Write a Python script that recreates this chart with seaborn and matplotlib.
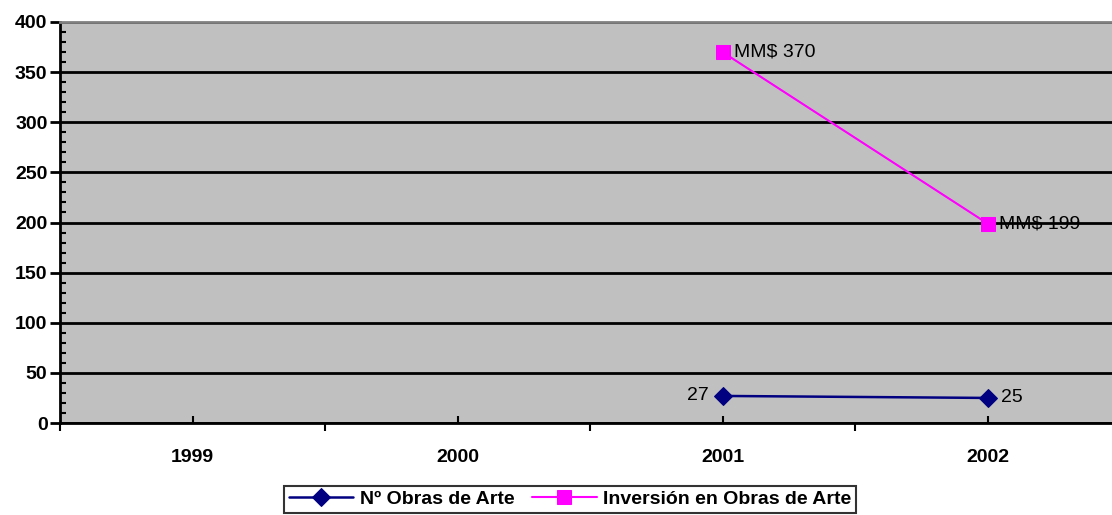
import numpy as np
import pandas as pd
import matplotlib
matplotlib.use("Agg")
import matplotlib.pyplot as plt
from matplotlib.ticker import MultipleLocator, FixedLocator
import seaborn as sns

# Data
years = ["1999", "2000", "2001", "2002"]
obras = [np.nan, np.nan, 27, 25]
inversion = [np.nan, np.nan, 370, 199]
obras_labels = ["", "", "27", "25"]
inversion_labels = ["", "", "MM$ 370", "MM$ 199"]

df = pd.DataFrame({"pos": np.arange(len(years)), "obras": obras, "inversion": inversion})

sns.set_style("white", {"xtick.bottom": True, "ytick.left": True})
plt.rcParams["font.family"] = ["Liberation Sans", "DejaVu Sans"]
plt.rcParams["text.color"] = "black"
plt.rcParams["xtick.color"] = "black"
plt.rcParams["ytick.color"] = "black"

fig = plt.figure(figsize=(11.12, 5.15), dpi=100)
ax = fig.add_axes([60 / 1112, 1 - 423 / 515, 1060 / 1112, 401 / 515])
ax.set_facecolor("#C0C0C0")

sns.lineplot(data=df, x="pos", y="obras", ax=ax, color="#000080", marker="D",
             markersize=9, markeredgecolor="#000080", linewidth=1.8,
             label="Nº Obras de Arte")
sns.lineplot(data=df, x="pos", y="inversion", ax=ax, color="#FF00FF", marker="s",
             markersize=10, markeredgecolor="#FF00FF", linewidth=1.5,
             label="Inversión en Obras de Arte")

# data labels
for i, v in enumerate(obras):
    if not np.isnan(v):
        if i == 2:
            ax.annotate(obras_labels[i], (i, v), xytext=(-10, 0), textcoords="offset points",
                        ha="right", va="center", fontsize=14)
        else:
            ax.annotate(obras_labels[i], (i, v), xytext=(10, 0), textcoords="offset points",
                        ha="left", va="center", fontsize=14)
for i, v in enumerate(inversion):
    if not np.isnan(v):
        ax.annotate(inversion_labels[i], (i, v), xytext=(8, 0), textcoords="offset points",
                    ha="left", va="center", fontsize=14)

ax.set_xlim(-0.5, 3.5)
ax.set_ylim(0, 400)
ax.yaxis.set_major_locator(MultipleLocator(50))
ax.yaxis.set_minor_locator(MultipleLocator(10))
ax.grid(axis="y", which="major", color="black", linewidth=2)
ax.set_axisbelow(True)

ax.set_xticks(np.arange(len(years)))
ax.set_xticklabels(years, fontweight="bold", fontsize=14)
ax.xaxis.set_minor_locator(FixedLocator([-0.5, 0.5, 1.5, 2.5, 3.5]))
ax.tick_params(axis="x", which="major", direction="in", length=5, width=1.5, pad=19)
ax.tick_params(axis="x", which="minor", direction="out", length=6, width=1.5, bottom=True)
ax.tick_params(axis="y", which="major", direction="out", length=7, width=2, pad=2,
               labelsize=14)
ax.tick_params(axis="y", which="minor", direction="in", length=4, width=1.5, left=True)
for lab in ax.get_yticklabels():
    lab.set_fontweight("bold")

ax.set_xlabel("")
ax.set_ylabel("")

for s in ["left", "bottom"]:
    ax.spines[s].set_color("black")
    ax.spines[s].set_linewidth(2)
ax.spines["top"].set_color("#808080")
ax.spines["top"].set_linewidth(2)
ax.spines["right"].set_visible(False)

ax.get_legend().remove()
handles, labels = ax.get_legend_handles_labels()
leg = fig.legend(handles, labels, loc="lower center", bbox_to_anchor=(0.513, 0.0),
                 ncol=2, frameon=True, fancybox=False, edgecolor="black",
                 prop={"weight": "bold", "size": 14}, handlelength=3.3,
                 handletextpad=0.35, columnspacing=0.9, borderpad=0.25,
                 borderaxespad=0.1)
leg.get_frame().set_linewidth(1.5)

fig.savefig("out.png", dpi=100, facecolor="white")
